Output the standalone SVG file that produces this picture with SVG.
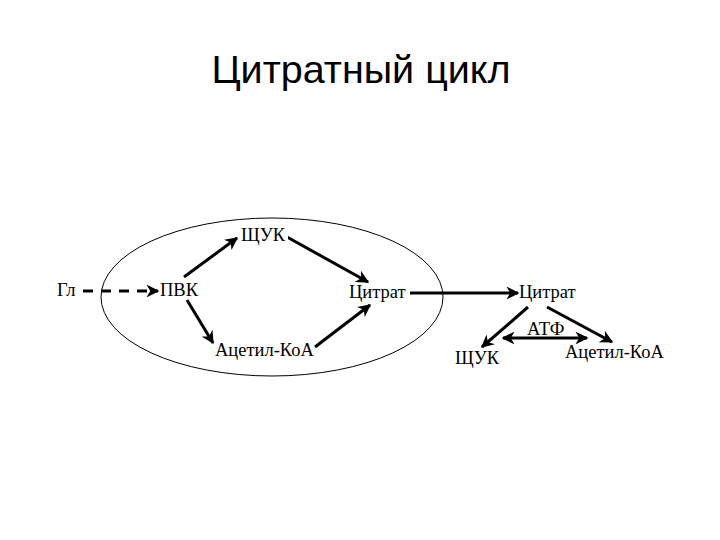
<svg xmlns="http://www.w3.org/2000/svg" width="720" height="540" viewBox="0 0 720 540">
<style>
.t{font-family:"Liberation Serif","Times New Roman",serif;font-size:18.5px;fill:#000}
.title{font-family:"Liberation Sans",Arial,sans-serif;font-size:39.5px;fill:#000}
.a{stroke:#000;stroke-width:3;fill:none;marker-end:url(#ah)}
</style>
<defs>
<marker id="ah" viewBox="0 0 10 10" refX="9" refY="5" markerWidth="4.3" markerHeight="4.3" orient="auto-start-reverse" markerUnits="strokeWidth">
<path d="M0,0 L10,5 L0,10 L3,5 Z" fill="#000"/>
</marker>
</defs>
<rect width="720" height="540" fill="#fff"/>
<text class="title" x="361" y="83" text-anchor="middle">Цитратный цикл</text>
<ellipse cx="272" cy="297" rx="171" ry="79" fill="none" stroke="#000" stroke-width="1"/>
<g id="connectors">
<path class="a" d="M83,291 L158,291" stroke-dasharray="10,8"/>
<path class="a" d="M184,277 L237,238"/>
<path class="a" d="M287,237 L368,282"/>
<path class="a" d="M187,300 L213,343"/>
<path class="a" d="M315,347 L370,305"/>
<path class="a" d="M410,293 L518,293"/>
<path class="a" d="M528,307 L482,347"/>
<path class="a" d="M547,307 L612,342"/>
<path class="a" d="M503,338 L587,338" style="marker-start:url(#ah)"/>
</g>
<g id="n-gl"><text class="t" x="57" y="296">Гл</text></g>
<g id="n-pvk"><text class="t" x="160" y="296">ПВК</text></g>
<g id="n-shchuk1"><rect x="238" y="223" width="50" height="20" fill="#fff"/><text class="t" x="241" y="241">ЩУК</text></g>
<g id="n-acetyl1"><text class="t" x="215" y="356">Ацетил-КоА</text></g>
<g id="n-citrat1"><text class="t" x="349" y="298">Цитрат</text></g>
<g id="n-citrat2"><text class="t" x="519" y="298">Цитрат</text></g>
<g id="n-atf"><text class="t" x="527" y="335">АТФ</text></g>
<g id="n-shchuk2"><text class="t" x="455" y="364">ЩУК</text></g>
<g id="n-acetyl2"><text class="t" x="565" y="358">Ацетил-КоА</text></g>
</svg>
